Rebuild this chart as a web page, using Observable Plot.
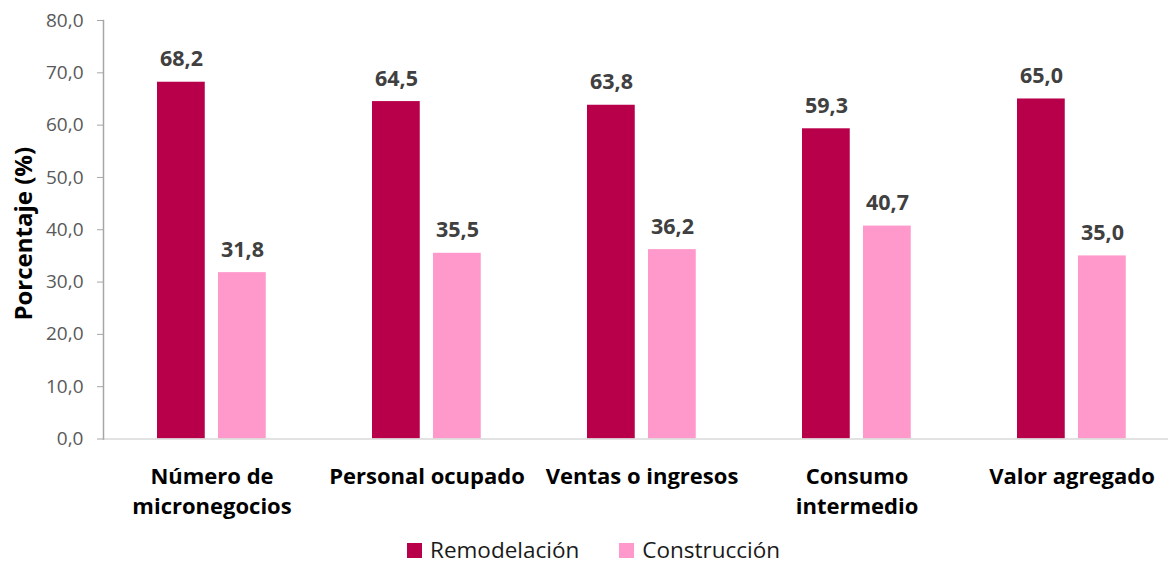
<!DOCTYPE html>
<html>
<head>
<meta charset="utf-8">
<script src="https://cdn.jsdelivr.net/npm/d3@7"></script>
<script src="https://cdn.jsdelivr.net/npm/@observablehq/plot@0.6"></script>
<style>
  html, body { margin: 0; padding: 0; background: #fff; }
  body { width: 1168px; height: 563px; overflow: hidden; font-family: "Open Sans", sans-serif; }
  #chart svg { display: block; }
  #legend { display: flex; align-items: center; height: 28px; margin-top: 6px; margin-left: 407px; font-size: 22.5px; line-height: 1.15; color: #1a1a1a; }
  #legend .sw { width: 15px; height: 15px; display: inline-block; margin-right: 8px; }
  #legend .item { display: flex; align-items: center; margin-right: 40px; }
</style>
</head>
<body>
<div id="chart"></div>
<div id="legend"></div>
<script>
const categories = ["Número de micronegocios", "Personal ocupado", "Ventas o ingresos", "Consumo intermedio", "Valor agregado"];
const categoryLabels = ["Número de\nmicronegocios", "Personal ocupado", "Ventas o ingresos", "Consumo\nintermedio", "Valor agregado"];
const series = ["Remodelación", "Construcción"];
const remodelacion = [68.2, 64.5, 63.8, 59.3, 65.0];
const construccion = [31.8, 35.5, 36.2, 40.7, 35.0];
const yTicks = [0, 10, 20, 30, 40, 50, 60, 70, 80];
const colors = ["#B8004A", "#FF99CC"];

const fmt = d => d.toFixed(1).replace(".", ",");
const rows = categories.map((c, i) => ({category: c, remod: remodelacion[i], constr: construccion[i]}));
const labelMap = new Map(categories.map((c, i) => [c, categoryLabels[i]]));

const font = "Open Sans, sans-serif";
const chart = Plot.plot({
  width: 1168,
  height: 530,
  marginTop: 20,
  marginBottom: 91.5,
  marginLeft: 103,
  marginRight: -11,
  style: {fontFamily: font, background: "#fff"},
  x: {domain: categories, padding: 0, range: [103, 1179]},
  y: {domain: [0, 80], range: [438.5, 20]},
  marks: [
    Plot.barY(rows, {x: "category", y: "remod", fill: colors[0], insetLeft: 53, insetRight: 114.25}),
    Plot.barY(rows, {x: "category", y: "constr", fill: colors[1], insetLeft: 114, insetRight: 53.25}),
    Plot.ruleY([0], {stroke: "#d9d9d9", strokeWidth: 1.5}),
    Plot.frame({anchor: "left", stroke: "#a6a6a6", strokeWidth: 1.5}),
    Plot.axisY({ticks: yTicks, tickSize: 6, tickPadding: 14, tickFormat: fmt, fontSize: 19, fill: "#595959", stroke: "#a6a6a6", label: null}),
    Plot.axisX({tickSize: 0, tickPadding: 24, tickFormat: d => labelMap.get(d), fontSize: 22, fontWeight: "bold", fill: "#000", lineHeight: 1.36, label: null}),
    Plot.text(rows, {x: "category", y: "remod", text: d => fmt(d.remod), dx: -30.5, dy: -16, lineAnchor: "bottom", fontSize: 21.5, fontWeight: "bold", fill: "#404040"}),
    Plot.text(rows, {x: "category", y: "constr", text: d => fmt(d.constr), dx: 30.5, dy: -16, lineAnchor: "bottom", fontSize: 21.5, fontWeight: "bold", fill: "#404040"}),
    Plot.text(["Porcentaje (%)"], {frameAnchor: "left", textAnchor: "middle", rotate: -90, dx: -79, dy: 4, fontSize: 24, fontWeight: "bold", fill: "#000"})
  ]
});
document.getElementById("chart").appendChild(chart);

const legend = document.getElementById("legend");
series.forEach((s, i) => {
  const item = document.createElement("div");
  item.className = "item";
  const sw = document.createElement("span");
  sw.className = "sw";
  sw.style.background = colors[i];
  const t = document.createElement("span");
  t.textContent = s;
  item.appendChild(sw);
  item.appendChild(t);
  legend.appendChild(item);
});
</script>
</body>
</html>
